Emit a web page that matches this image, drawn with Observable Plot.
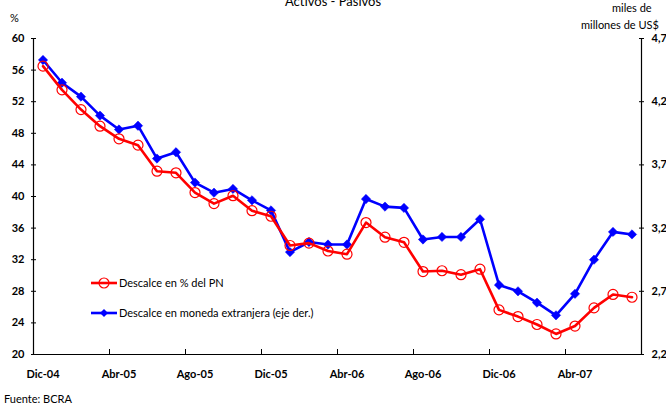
<!DOCTYPE html>
<html>
<head>
<meta charset="utf-8">
<script src="https://cdn.jsdelivr.net/npm/d3@7"></script>
<script src="https://cdn.jsdelivr.net/npm/@observablehq/plot@0.6"></script>
<style>
  html, body { margin: 0; padding: 0; background: #fff; }
  #wrap { position: relative; width: 666px; height: 406px; overflow: hidden; font-family: Lato, "Open Sans", sans-serif; color: #000; }
  #wrap svg.plot { position: absolute; left: 0; top: 0; }
  .lbl { position: absolute; white-space: nowrap; font-size: 11px; }
  .legend { position: absolute; left: 91px; font-size: 11px; display: flex; align-items: center; }
  .legend svg { margin-right: 2px; }
</style>
</head>
<body>
<div id="wrap">
  <div class="lbl" style="left:0;width:666px;text-align:center;top:-7px;font-size:13px;">Activos - Pasivos</div>
  <div class="lbl" style="left:10px;top:11px;">%</div>
  <div class="lbl" style="left:612px;top:1px;">miles de</div>
  <div class="lbl" style="left:581px;top:18px;">millones de US$</div>
  <div class="lbl" style="left:4px;top:392px;">Fuente: BCRA</div>
  <div class="legend" id="lg1" style="top:276px;"></div>
  <div class="legend" id="lg2" style="top:306px;"></div>
</div>
<script>
// Months, Dec 2004 to Jul 2007
const months = ["Dic-04","Ene-05","Feb-05","Mar-05","Abr-05","May-05","Jun-05","Jul-05","Ago-05","Sep-05","Oct-05","Nov-05",
  "Dic-05","Ene-06","Feb-06","Mar-06","Abr-06","May-06","Jun-06","Jul-06","Ago-06","Sep-06","Oct-06","Nov-06",
  "Dic-06","Ene-07","Feb-07","Mar-07","Abr-07","May-07","Jun-07","Jul-07"];

// Descalce en % del PN (left axis, %)
const descalcePN = [56.5,53.5,51.0,48.9,47.3,46.5,43.2,43.0,40.5,39.1,40.1,38.2,
  37.5,33.8,34.1,33.1,32.7,36.7,34.85,34.2,30.5,30.6,30.1,30.8,
  25.65,24.8,23.8,22.6,23.6,25.9,27.6,27.25];

// Descalce en moneda extranjera (right axis, miles de millones de US$)
const descalceME = [4.53,4.35,4.24,4.09,3.98,4.01,3.75,3.80,3.56,3.48,3.51,3.42,
  3.34,3.01,3.09,3.07,3.07,3.43,3.37,3.36,3.11,3.13,3.13,3.27,
  2.75,2.70,2.61,2.51,2.68,2.95,3.17,3.15];

const leftTicks = [20,24,28,32,36,40,44,48,52,56,60];
const rightTicks = [2.2,2.7,3.2,3.7,4.2,4.7];
const xLabelEvery = 4;

// Right axis domain [2.2, 4.7] shares the frame with the left [20, 60]
const leftDomain = [20, 60], rightDomain = [2.2, 4.7];
const toLeft = v => leftDomain[0] + (v - rightDomain[0]) / (rightDomain[1] - rightDomain[0]) * (leftDomain[1] - leftDomain[0]);
const fromLeft = y => rightDomain[0] + (y - leftDomain[0]) / (leftDomain[1] - leftDomain[0]) * (rightDomain[1] - rightDomain[0]);
const fmtComma = v => d3.format(".1f")(v).replace(".", ",");

const pn = descalcePN.map((v, i) => ({i, v}));
const me = descalceME.map((v, i) => ({i, v: toLeft(v)}));

const labelIdx = d3.range(0, months.length, xLabelEvery);
const tickIdx = labelIdx.map(i => i - 0.5);
const RED = "#ff0000", BLUE = "#0000ff";
const tickFont = {fontWeight: "bold", fontSize: 11, label: null};

const chart = Plot.plot({
  width: 666,
  height: 406,
  marginLeft: 33,
  marginRight: 25,
  marginTop: 38,
  marginBottom: 52,
  style: {fontFamily: "Lato, 'Open Sans', sans-serif", background: "transparent", overflow: "visible"},
  x: {type: "linear", domain: [-0.5, months.length - 0.5], axis: null},
  y: {domain: leftDomain, axis: null},
  marks: [
    // axis lines
    Plot.ruleX([-0.5], {stroke: "#000", strokeWidth: 1.2}),
    Plot.ruleX([months.length - 0.5], {stroke: "#000", strokeWidth: 1.2}),
    Plot.ruleY([leftDomain[0]], {stroke: "#000", strokeWidth: 1.2}),
    // left axis
    Plot.axisY(leftTicks, {anchor: "left", tickSize: 5, dx: 3, tickFormat: () => "", label: null, stroke: "#000"}),
    Plot.axisY(leftTicks, {anchor: "left", tickSize: 0, tickPadding: 9, tickFormat: d => d, ...tickFont, fill: "#000"}),
    // right axis
    Plot.axisY(rightTicks.map(toLeft), {anchor: "right", tickSize: 5, dx: -3, tickFormat: () => "", label: null, stroke: "#000"}),
    Plot.axisY(rightTicks.map(toLeft), {anchor: "right", tickSize: 0, tickPadding: 10, tickFormat: d => fmtComma(fromLeft(d)), ...tickFont, fill: "#000"}),
    // x axis
    Plot.axisX(tickIdx, {anchor: "bottom", tickSize: 5, dy: -5, tickFormat: () => "", label: null, stroke: "#000"}),
    Plot.axisX(labelIdx, {anchor: "bottom", tickSize: 0, tickPadding: 16, tickFormat: i => months[i], ...tickFont, fill: "#000"}),
    // series
    Plot.line(me, {x: "i", y: "v", stroke: BLUE, strokeWidth: 2.6}),
    Plot.dot(me, {x: "i", y: "v", symbol: "diamond2", r: 4.2, fill: BLUE, stroke: BLUE, strokeWidth: 0.5}),
    Plot.line(pn, {x: "i", y: "v", stroke: RED, strokeWidth: 2.6}),
    Plot.dot(pn, {x: "i", y: "v", r: 5, fill: "none", stroke: RED, strokeWidth: 1.2})
  ]
});
document.getElementById("wrap").appendChild(chart);

// legend entries
function swatch(color, marker) {
  const s = d3.create("svg").attr("width", 26).attr("height", 12);
  s.append("line").attr("x1", 0).attr("x2", 26).attr("y1", 6).attr("y2", 6).attr("stroke", color).attr("stroke-width", 2.6);
  if (marker === "circle") {
    s.append("circle").attr("cx", 13).attr("cy", 6).attr("r", 5).attr("fill", "none").attr("stroke", color).attr("stroke-width", 1.2);
  } else {
    s.append("path").attr("transform", "translate(13,6)").attr("d", d3.symbol(d3.symbolDiamond2, 40)()).attr("fill", color);
  }
  return s.node();
}
const lg1 = document.getElementById("lg1");
lg1.appendChild(swatch(RED, "circle"));
lg1.appendChild(Object.assign(document.createElement("span"), {textContent: "Descalce en % del PN"}));
const lg2 = document.getElementById("lg2");
lg2.appendChild(swatch(BLUE, "diamond"));
lg2.appendChild(Object.assign(document.createElement("span"), {textContent: "Descalce en moneda extranjera (eje der.)"}));
</script>
</body>
</html>
